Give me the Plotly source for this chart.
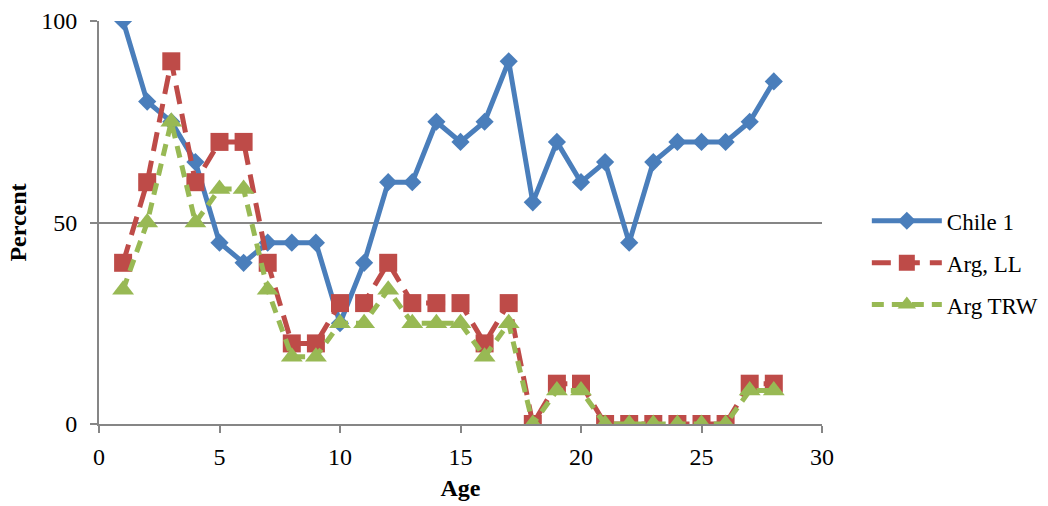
import plotly.graph_objects as go

age = list(range(1, 29))
chile1 = [100, 80, 75, 65, 45, 40, 45, 45, 45, 25, 40, 60, 60, 75, 70, 75, 90, 55, 70, 60, 65, 45, 65, 70, 70, 70, 75, 85]
arg_ll = [40, 60, 90, 60, 70, 70, 40, 20, 20, 30, 30, 40, 30, 30, 30, 20, 30, 0, 10, 10, 0, 0, 0, 0, 0, 0, 10, 10]
arg_trw = [33.3, 50, 75, 50, 58.3, 58.3, 33.3, 16.7, 16.7, 25, 25, 33.3, 25, 25, 25, 16.7, 25, 0, 8.3, 8.3, 0, 0, 0, 0, 0, 0, 8.3, 8.3]

font = "Liberation Serif, Times New Roman, serif"
fig = go.Figure()
fig.add_trace(go.Scatter(x=age, y=chile1, name="Chile 1", mode="lines+markers", legendgroup="a",
                         line=dict(color="#4A7EBB", width=5),
                         marker=dict(symbol="diamond", size=14, color="#4A7EBB")))
fig.add_trace(go.Scatter(x=age, y=arg_ll, name="Arg, LL", mode="lines+markers", legendgroup="b",
                         line=dict(color="#BE4B48", width=5, dash="19px,10px"),
                         marker=dict(symbol="square", size=18, color="#BE4B48")))
fig.add_trace(go.Scatter(x=age, y=arg_trw, name="Arg TRW", mode="lines+markers", legendgroup="c",
                         line=dict(color="#98B954", width=5, dash="12px,8px"),
                         marker=dict(symbol="triangle-up", size=19, color="#98B954")))

fig.update_layout(
    width=1048, height=506,
    margin=dict(l=99, r=226, t=21, b=82, autoexpand=False),
    paper_bgcolor="white", plot_bgcolor="white",
    font=dict(family=font, size=24, color="black"),
    legend=dict(x=1.062, y=0.40, xanchor="left", yanchor="middle",
                font=dict(size=23), tracegroupgap=9, itemwidth=70),
    xaxis=dict(range=[0, 30], tickvals=[0, 5, 10, 15, 20, 25, 30],
               showgrid=False, showline=True, linecolor="#868686", linewidth=2,
               ticks="outside", ticklen=7, tickcolor="#868686", tickwidth=2,
               ticklabelstandoff=3, automargin=False,
               title=dict(text="<b>Age</b>", font=dict(size=24), standoff=10),
               zeroline=False),
    yaxis=dict(range=[0, 100], tickvals=[0, 50, 100],
               showgrid=True, gridcolor="#868686", gridwidth=2,
               showline=True, linecolor="#868686", linewidth=2,
               ticks="outside", ticklen=7, tickcolor="#868686", tickwidth=2,
               ticklabelstandoff=8, automargin=False,
               title=dict(text="<b>Percent</b>", font=dict(size=24), standoff=8),
               zeroline=False),
)
fig.write_html("out.html")
